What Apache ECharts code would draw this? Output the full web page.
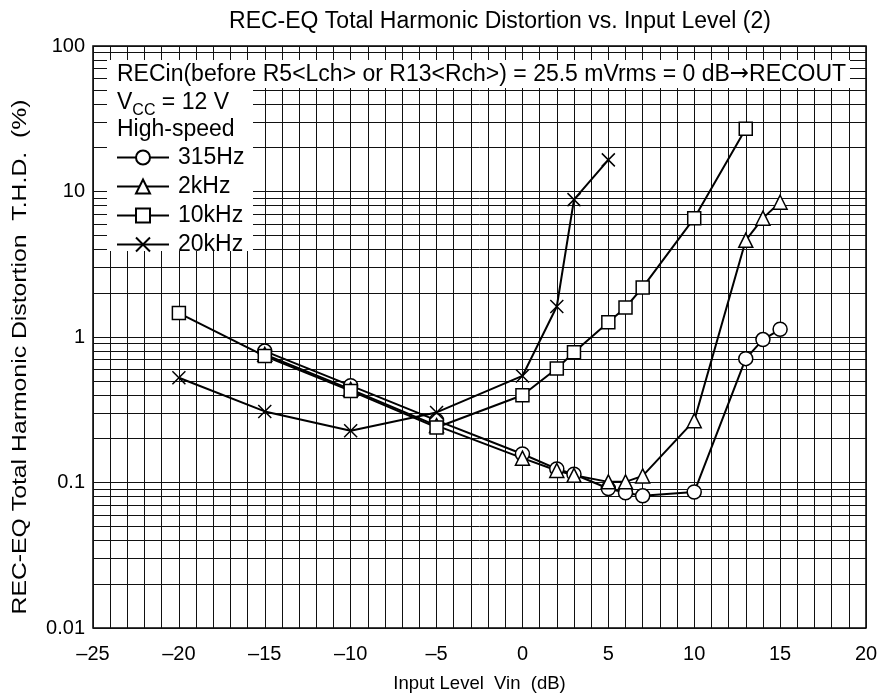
<!DOCTYPE html>
<html>
<head>
<meta charset="utf-8">
<script src="https://cdn.jsdelivr.net/npm/echarts@6/dist/echarts.min.js"></script>
<style>
  html, body { margin: 0; padding: 0; background: #fff; }
  #chart { width: 881px; height: 698px; }
</style>
</head>
<body>
<div id="chart"></div>
<script>
// Input level (dB) and THD (%) per test frequency
const level315 = [-15, -10, -5, 0, 2, 3, 5, 6, 7, 10, 13, 14, 15];
const thd315   = [0.80, 0.463, 0.267, 0.157, 0.124, 0.114, 0.091, 0.085, 0.081, 0.086, 0.71, 0.96, 1.13];

const level2k  = [-15, -10, -5, 0, 2, 3, 5, 6, 7, 10, 13, 14, 15];
const thd2k    = [0.76, 0.437, 0.246, 0.147, 0.121, 0.112, 0.101, 0.101, 0.111, 0.266, 4.62, 6.56, 8.44];

const level10k = [-20, -15, -10, -5, 0, 2, 3, 5, 6, 7, 10, 13];
const thd10k   = [1.46, 0.74, 0.426, 0.239, 0.398, 0.608, 0.786, 1.265, 1.595, 2.19, 6.56, 27.0];

const level20k = [-20, -15, -10, -5, 0, 2, 3, 5];
const thd20k   = [0.525, 0.308, 0.227, 0.303, 0.54, 1.62, 8.79, 16.5];

const seriesNames = ['315Hz', '2kHz', '10kHz', '20kHz'];

// Intermediate log grid lines (2..9 within each decade)
const minorGridValues = [
  0.02, 0.03, 0.04, 0.05, 0.06, 0.07, 0.08, 0.09,
  0.2, 0.3, 0.4, 0.5, 0.6, 0.7, 0.8, 0.9,
  2, 3, 4, 5, 6, 7, 8, 9,
  20, 30, 40, 50, 60, 70, 80, 90
];

const FONT = '"Liberation Sans", Arial, Helvetica, sans-serif';
const INK = '#000';

function pairs(xs, ys) { return xs.map((x, i) => [x, ys[i]]); }

const crossPath = 'path://M0,0L10,10M10,0L0,10';

function makeSeries(name, xs, ys, symbol, size) {
  return {
    name: name,
    type: 'line',
    data: pairs(xs, ys),
    symbol: symbol,
    symbolSize: size,
    showAllSymbol: true,
    color: INK,
    lineStyle: { color: INK, width: 2 },
    itemStyle: { color: '#fff', borderColor: INK, borderWidth: 1.5 },
    emphasis: { disabled: true },
    z: 6
  };
}

const chart = echarts.init(document.getElementById('chart'), null, { renderer: 'canvas' });

chart.setOption({
  animation: false,
  backgroundColor: '#fff',
  title: {
    text: 'REC-EQ Total Harmonic Distortion vs. Input Level (2)',
    left: 495, top: 5, textAlign: 'center',
    textStyle: { fontFamily: FONT, fontSize: 23, fontWeight: 'normal', color: INK }
  },
  grid: { show: true, left: 93, right: 15, top: 46, bottom: 66, borderColor: INK, borderWidth: 1.5, backgroundColor: 'transparent' },
  xAxis: {
    type: 'value', min: -25, max: 20, interval: 1,
    name: 'Input Level  Vin  (dB)', nameLocation: 'middle', nameGap: 46,
    nameTextStyle: { fontFamily: FONT, fontSize: 18.5, color: INK },
    axisLine: { show: false },
    axisTick: { show: false },
    axisLabel: {
      fontFamily: FONT, fontSize: 20, color: INK, margin: 16,
      formatter: v => (v % 5 === 0 ? String(v).replace('-', '\u2013') : '')
    },
    splitLine: { show: true, lineStyle: { color: '#111', width: 1 } }
  },
  yAxis: {
    type: 'log', logBase: 10, min: 0.01, max: 100,
    axisLine: { show: false },
    axisTick: { show: false },
    axisLabel: {
      fontFamily: FONT, fontSize: 20, color: INK, margin: 8,
      formatter: v => String(+v.toPrecision(3))
    },
    splitLine: { show: true, lineStyle: { color: '#111', width: 1 } }
  },
  legend: {
    data: seriesNames,
    orient: 'vertical',
    left: 116, top: 146, padding: 0,
    itemWidth: 52, itemHeight: 17.5, itemGap: 6,
    textStyle: { fontFamily: FONT, fontSize: 23, color: INK, padding: [0, 0, 0, 4] },
    selectedMode: false,
    z: 10
  },
  graphic: [
    // white panels behind the annotation text
    { type: 'rect', z: 3, shape: { x: 107, y: 60, width: 743, height: 28 }, style: { fill: '#fff' }, silent: true },
    { type: 'rect', z: 3, shape: { x: 107, y: 88, width: 146, height: 163 }, style: { fill: '#fff' }, silent: true },
    {
      type: 'text', z: 4, left: 117, top: 63,
      style: {
        text: 'RECin(before R5<Lch> or R13<Rch>) = 25.5 mVrms = 0 dB{ar|\u2192}RECOUT',
        font: '23px ' + FONT, fill: INK,
        rich: { ar: { font: '23px "DejaVu Sans"', fill: INK } }
      }
    },
    {
      type: 'text', z: 4, left: 117, top: 91,
      style: {
        text: '{a|V}{s|CC}{a| = 12 V}',
        rich: {
          a: { font: '23px ' + FONT, fill: INK, verticalAlign: 'bottom' },
          s: { font: '16px ' + FONT, fill: INK, verticalAlign: 'bottom', padding: [0, 0, -5, 0] }
        }
      }
    },
    {
      type: 'text', z: 4, left: 117, top: 118,
      style: { text: 'High-speed', font: '23px ' + FONT, fill: INK }
    },
    {
      type: 'text', z: 4, x: 20, y: 357, rotation: Math.PI / 2, scaleX: 1.18,
      style: {
        text: 'REC-EQ Total Harmonic Distortion  T.H.D.  (%)',
        font: '21px ' + FONT, fill: INK, align: 'center', verticalAlign: 'middle'
      }
    }
  ],
  series: [
    // minor log grid lines
    {
      type: 'line', data: [], silent: true, z: 0,
      markLine: {
        z: 1, silent: true, symbol: ['none', 'none'], label: { show: false },
        lineStyle: { color: '#111', width: 1, type: 'solid' },
        emphasis: { disabled: true },
        animation: false,
        data: minorGridValues.map(v => ({ yAxis: v }))
      }
    },
    makeSeries('315Hz', level315, thd315, 'circle', 14),
    makeSeries('2kHz', level2k, thd2k, 'triangle', 14),
    makeSeries('10kHz', level10k, thd10k, 'rect', 13),
    makeSeries('20kHz', level20k, thd20k, crossPath, 13)
  ]
});
</script>
</body>
</html>
